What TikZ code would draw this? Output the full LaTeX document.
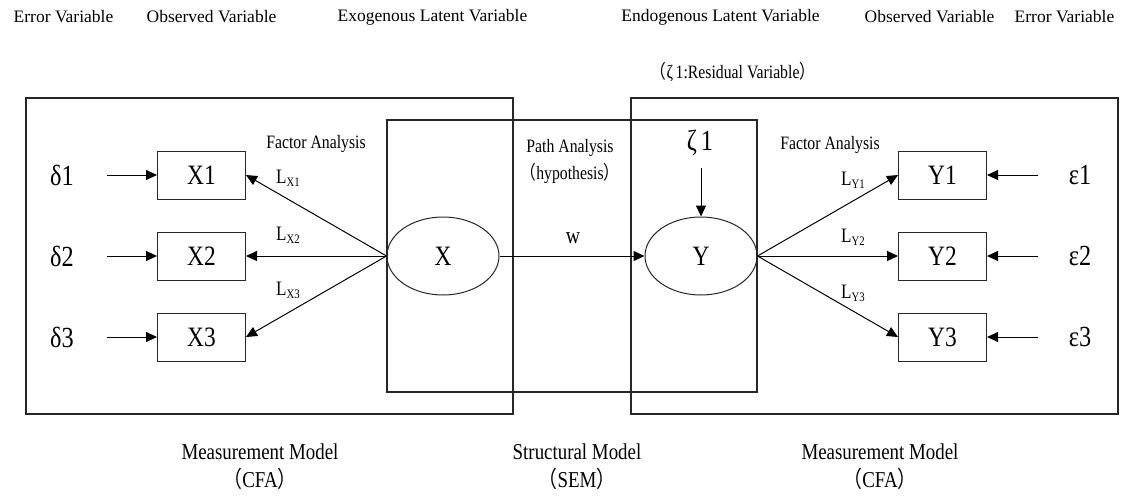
\documentclass[tikz,border=0pt]{standalone}
\usepackage{graphicx}
\usepackage{fontspec}
\setmainfont{Liberation Serif}
\newfontfamily\cjk{Noto Sans CJK SC}
\usetikzlibrary{shapes.geometric,arrows.meta}

% full-width brackets
\newcommand{\lpar}{{\cjk （}}
\newcommand{\rpar}{{\cjk ）}}
\newcommand{\fsz}[1]{\fontsize{#1}{#1}\selectfont}
% narrow, tall lettering
\newcommand{\tall}[1]{\scalebox{0.9}[1.08]{#1}}
\newcommand{\load}[1]{\tall{L{\fsz{12}\raisebox{-2.5pt}{#1}}}}

\begin{document}
\begin{tikzpicture}[x=1pt,y=-1pt,
  frame/.style={draw=black!85,line width=1.1pt},
  obsbox/.style={draw=black!85,line width=1pt,minimum width=88pt,minimum height=48pt,inner sep=0pt,font=\fsz{26}},
  latent/.style={draw=black!85,line width=1pt,ellipse,minimum width=112pt,minimum height=78pt,inner sep=0pt,font=\fsz{26}},
  errlabel/.style={inner sep=0pt,font=\fsz{27}},
  toplabel/.style={inner sep=0pt,font=\fsz{17.5}},
  midlabel/.style={inner sep=0pt,font=\fsz{17.5}},
  botlabel/.style={inner sep=0pt,font=\fsz{21}},
  loadlabel/.style={inner sep=0pt,anchor=west,font=\fsz{19}},
  arr/.style={line width=1pt,-{Triangle[length=11pt,width=10pt]}}
]
\useasboundingbox (0,0) rectangle (1134,496);

% model frames
\draw[frame] (26,98) rectangle (513,414);
\draw[frame] (387,120) rectangle (757,392);
\draw[frame] (631,98) rectangle (1118,414);

% header row
\node[toplabel] (h1) at (63.5,17) {Error Variable};
\node[toplabel] (h2) at (211.5,17) {Observed Variable};
\node[toplabel] (h3) at (432.5,17) {Exogenous Latent Variable};
\node[toplabel] (h4) at (720.5,17) {Endogenous Latent Variable};
\node[toplabel] (h5) at (929.5,17) {Observed Variable};
\node[toplabel] (h6) at (1064.5,17) {Error Variable};
\node[midlabel] (res) at (733,72) {\tall{\lpar ζ\,1:Residual Variable\rpar}};

% latent variables
\node[latent] (X) at (443,256) {\tall{X}};
\node[latent] (Y) at (701,256) {\tall{Y}};

% observed variables
\node[obsbox] (X1) at (201.5,175) {\tall{X1}};
\node[obsbox] (X2) at (201.5,256) {\tall{X2}};
\node[obsbox] (X3) at (201.5,337) {\tall{X3}};
\node[obsbox] (Y1) at (942.5,175) {\tall{Y1}};
\node[obsbox] (Y2) at (942.5,256) {\tall{Y2}};
\node[obsbox] (Y3) at (942.5,337) {\tall{Y3}};

% error terms
\node[errlabel] (d1) at (62,175) {\tall{δ1}};
\node[errlabel] (d2) at (62,256) {\tall{δ2}};
\node[errlabel] (d3) at (62,337) {\tall{δ3}};
\node[errlabel] (e1) at (1080,175) {\tall{ε1}};
\node[errlabel] (e2) at (1080,256) {\tall{ε2}};
\node[errlabel] (e3) at (1080,337) {\tall{ε3}};
\node[errlabel] (z1) at (700,143) {\tall{ζ\,1}};

\coordinate (d1s) at (107,175);
\coordinate (d2s) at (107,256);
\coordinate (d3s) at (107,337);
\coordinate (e1s) at (1038,175);
\coordinate (e2s) at (1038,256);
\coordinate (e3s) at (1038,337);
\coordinate (z1s) at (701,168);

\draw[arr] (d1s) -- (X1);
\draw[arr] (d2s) -- (X2);
\draw[arr] (d3s) -- (X3);
\draw[arr] (e1s) -- (Y1);
\draw[arr] (e2s) -- (Y2);
\draw[arr] (e3s) -- (Y3);
\draw[arr] (z1s) -- (Y.north);

% loadings
\draw[arr] (X.west) -- (X1.east);
\draw[arr] (X.west) -- (X2.east);
\draw[arr] (X.west) -- (X3.east);
\draw[arr] (Y.east) -- (Y1.west);
\draw[arr] (Y.east) -- (Y2.west);
\draw[arr] (Y.east) -- (Y3.west);
\draw[arr] (X.east) -- (Y.west);

\node[loadlabel] (lx1) at (276,178) {\load{X1}};
\node[loadlabel] (lx2) at (276,235) {\load{X2}};
\node[loadlabel] (lx3) at (276,290) {\load{X3}};
\node[loadlabel] (ly1) at (841,180) {\load{Y1}};
\node[loadlabel] (ly2) at (841,237) {\load{Y2}};
\node[loadlabel] (ly3) at (841,293) {\load{Y3}};
\node[inner sep=0pt,font=\fsz{22}] (w) at (573,238) {\tall{w}};

\node[midlabel] (fa1) at (316,144) {\tall{Factor Analysis}};
\node[midlabel] (fa2) at (830,145) {\tall{Factor Analysis}};
\node[midlabel] (pa) at (570,148) {\tall{Path Analysis}};
\node[midlabel] (hy) at (570,173) {\tall{\lpar hypothesis\rpar}};

% model names
\node[botlabel] (m1) at (260,452) {\tall{Measurement Model}};
\node[botlabel] (m1b) at (260,479) {\tall{\lpar CFA\rpar}};
\node[botlabel] (m2) at (577,452) {\tall{Structural Model}};
\node[botlabel] (m2b) at (577,479) {\tall{\lpar SEM\rpar}};
\node[botlabel] (m3) at (880,452) {\tall{Measurement Model}};
\node[botlabel] (m3b) at (880,479) {\tall{\lpar CFA\rpar}};
\end{tikzpicture}
\end{document}
